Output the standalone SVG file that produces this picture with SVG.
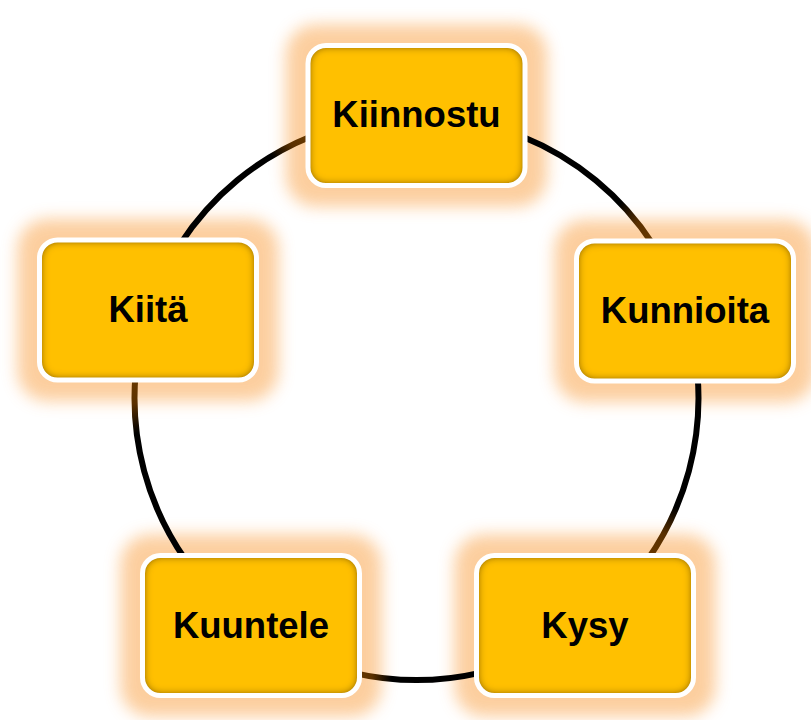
<svg xmlns="http://www.w3.org/2000/svg" width="811" height="720" viewBox="0 0 811 720">
<style>
.glow{fill:#FCC68E;opacity:0.85;filter:url(#blur)}
.fill{fill:#FFC000;filter:url(#inner)}
.edge{fill:none;stroke:#FFFFFF;stroke-width:5}
.lbl{font-family:"Liberation Sans",Arial,sans-serif;font-weight:bold;font-size:36.5px;fill:#000;text-anchor:middle}
.arc{fill:none;stroke-width:6}
</style>
<defs>
<filter id="blur" x="-30%" y="-30%" width="160%" height="160%">
<feGaussianBlur stdDeviation="8"/>
</filter>
<filter id="inner" x="-5%" y="-5%" width="110%" height="110%">
<feGaussianBlur in="SourceAlpha" stdDeviation="5" result="b"/>
<feComposite in="SourceAlpha" in2="b" operator="out" result="edgeA"/>
<feComponentTransfer in="edgeA" result="edgeB"><feFuncA type="linear" slope="1.9"/></feComponentTransfer>
<feFlood flood-color="#6e4800" flood-opacity="0.85"/>
<feComposite in2="edgeB" operator="in" result="shadow"/>
<feMerge><feMergeNode in="SourceGraphic"/><feMergeNode in="shadow"/></feMerge>
</filter>
<linearGradient id="gL" gradientUnits="userSpaceOnUse" x1="135.6" y1="373.4" x2="185.5" y2="559.8">
<stop offset="0" stop-color="#6b3a00"/><stop offset="0.15" stop-color="#5a3000"/><stop offset="0.3" stop-color="#000"/><stop offset="1" stop-color="#000"/></linearGradient>
<linearGradient id="gB" gradientUnits="userSpaceOnUse" x1="353.1" y1="672.8" x2="479.9" y2="672.8">
<stop offset="0" stop-color="#6b3a00"/><stop offset="0.15" stop-color="#5a3000"/><stop offset="0.3" stop-color="#000"/><stop offset="1" stop-color="#000"/></linearGradient>
<linearGradient id="gR" gradientUnits="userSpaceOnUse" x1="647.5" y1="559.8" x2="697.4" y2="373.4">
<stop offset="0" stop-color="#6b3a00"/><stop offset="0.15" stop-color="#5a3000"/><stop offset="0.3" stop-color="#000"/><stop offset="1" stop-color="#000"/></linearGradient>
<linearGradient id="gTR" gradientUnits="userSpaceOnUse" x1="653.0" y1="244.4" x2="522.1" y2="136.5">
<stop offset="0" stop-color="#6b3a00"/><stop offset="0.15" stop-color="#5a3000"/><stop offset="0.3" stop-color="#000"/><stop offset="1" stop-color="#000"/></linearGradient>
<linearGradient id="gTL" gradientUnits="userSpaceOnUse" x1="310.9" y1="136.5" x2="180.0" y2="244.4">
<stop offset="0" stop-color="#6b3a00"/><stop offset="0.12" stop-color="#5a3000"/><stop offset="0.25" stop-color="#000"/><stop offset="1" stop-color="#000"/></linearGradient>
</defs>
<g id="glows">
<rect class="glow" x="286" y="24.5" width="261" height="182" rx="30"/>
<rect class="glow" x="554.5" y="220" width="261" height="182" rx="30"/>
<rect class="glow" x="454.5" y="534.5" width="261" height="182" rx="30"/>
<rect class="glow" x="120.5" y="534.5" width="261" height="182" rx="30"/>
<rect class="glow" x="17.5" y="219" width="261" height="182" rx="30"/>
</g>
<g id="connectors">
<path class="arc" stroke="url(#gL)" d="M135.6,373.4 A282,282 0 0 0 185.5,559.8"/>
<path class="arc" stroke="url(#gB)" d="M353.1,672.8 A282,282 0 0 0 479.9,672.8"/>
<path class="arc" stroke="url(#gR)" d="M647.5,559.8 A282,282 0 0 0 697.4,373.4"/>
<path class="arc" stroke="url(#gTR)" d="M653.0,244.4 A282,282 0 0 0 522.1,136.5"/>
<path class="arc" stroke="url(#gTL)" d="M310.9,136.5 A282,282 0 0 0 180.0,244.4"/>
</g>
<g id="node-kiinnostu">
<rect class="fill" x="308" y="45.5" width="217" height="140" rx="18"/>
<rect class="edge" x="308" y="45.5" width="217" height="140" rx="18"/>
<text class="lbl" x="416.5" y="126.5">Kiinnostu</text>
</g>
<g id="node-kunnioita">
<rect class="fill" x="576.5" y="241" width="217" height="140" rx="18"/>
<rect class="edge" x="576.5" y="241" width="217" height="140" rx="18"/>
<text class="lbl" x="685" y="322.5">Kunnioita</text>
</g>
<g id="node-kysy">
<rect class="fill" x="476.5" y="555.5" width="217" height="140" rx="18"/>
<rect class="edge" x="476.5" y="555.5" width="217" height="140" rx="18"/>
<text class="lbl" x="585" y="638">Kysy</text>
</g>
<g id="node-kuuntele">
<rect class="fill" x="142.5" y="555.5" width="217" height="140" rx="18"/>
<rect class="edge" x="142.5" y="555.5" width="217" height="140" rx="18"/>
<text class="lbl" x="251" y="638">Kuuntele</text>
</g>
<g id="node-kiita">
<rect class="fill" x="39.5" y="240" width="217" height="140" rx="18"/>
<rect class="edge" x="39.5" y="240" width="217" height="140" rx="18"/>
<text class="lbl" x="148" y="322">Kiitä</text>
</g>
</svg>
